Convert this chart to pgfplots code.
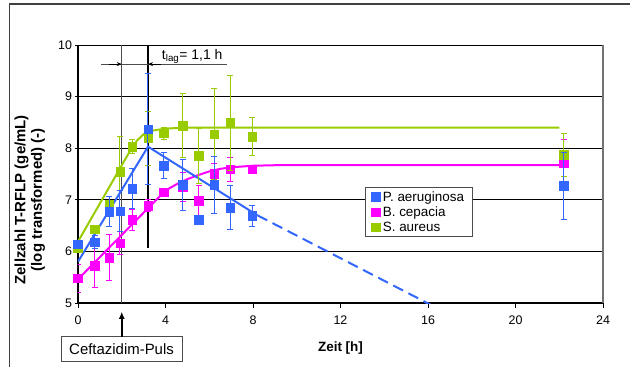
\documentclass[border=0pt]{standalone}
\usepackage{pgfplots}
\pgfplotsset{compat=1.18}
\usepackage{pgfplotstable}
\usepackage{fontspec}
\setmainfont{Liberation Sans}
\usetikzlibrary{arrows.meta}
\definecolor{cblue}{HTML}{3366FF}
\definecolor{cmag}{HTML}{FF00FF}
\definecolor{cgreen}{HTML}{99CC00}

\pgfplotstableread{
t v e
0 6.14 0.05
0.76 6.18 0.12
1.43 6.77 0.29
1.92 6.78 0.40
2.48 7.22 0.38
3.2 8.37 1.07
3.93 7.66 0.25
4.78 7.29 0.50
5.53 6.61 0.0
6.23 7.29 0.55
6.95 6.85 0.42
7.97 6.69 0.20
22.2 7.27 0.65
}\bluedata

\pgfplotstableread{
t v e
0 5.48 0.27
0.76 5.72 0.42
1.43 5.88 0.44
1.92 6.16 0.22
2.48 6.61 0.20
3.2 6.89 0.12
3.93 7.15 0.05
4.78 7.25 0.28
5.53 6.98 0.30
6.23 7.51 0.20
6.95 7.59 0.23
7.97 7.59 0.05
22.2 7.72 0.44
}\magdata

\pgfplotstableread{
t v e
0 6.07 0.05
0.76 6.43 0.05
1.43 6.90 0.16
1.92 7.54 0.68
2.48 8.03 0.13
3.2 8.19 0.52
3.93 8.29 0.12
4.78 8.44 0.62
5.53 7.85 0.53
6.23 8.27 0.88
6.95 8.49 0.92
7.97 8.22 0.37
22.2 7.87 0.42
}\greendata

\begin{document}
\begin{tikzpicture}
\useasboundingbox (-78bp,-64bp) rectangle (552bp,303bp);
\clip (-78bp,-64bp) rectangle (552bp,303bp);
\draw[line width=1.3bp, black!75] (-68.5bp,-80bp) -- (-68.5bp,299bp) -- (570bp,299bp);
\begin{axis}[
  at={(0,0)}, anchor=south west,
  scale only axis, width=525bp, height=258bp,
  xmin=0, xmax=24, ymin=5, ymax=10,
  xtick={0,4,...,24}, ytick={5,6,...,10},
  axis lines=left,
  axis line style={-, black, line width=1.3bp},
  ymajorgrids, grid style={black, line width=0.8bp},
  xtick align=outside, ytick align=center,
  major tick length=5bp,
  tick style={black, line width=0.8bp},
  ticklabel style={font=\fontsize{12.5}{14}\selectfont},
  xticklabel style={yshift=-4bp},
  /pgf/number format/assume math mode=true,
  clip mode=individual,
  legend style={at={(0.5467,0.4496)}, anchor=north west, draw=black!70, line width=0.8bp,
    fill=white, font=\fontsize{13.5}{15}\selectfont, inner xsep=6bp, inner ysep=2bp,
    row sep=0bp},
  legend cell align=left,
  legend image code/.code={\fill[#1] (0bp,-4.3bp) rectangle (8.6bp,4.3bp);},
]
% right border
\draw[black!55, line width=1.5bp] (rel axis cs:1,0) -- (rel axis cs:1,1);
% reference lines
\draw[black!70, line width=1.2bp] (axis cs:2,10) -- (axis cs:2,5);
\draw[black, line width=1.2bp] (axis cs:3.2,10) -- (axis cs:3.2,6.07);
% t_lag arrows
\draw[black!70, line width=1bp] (axis cs:1.05,9.63) -- (axis cs:6.8,9.63);
\draw[-{Stealth[length=5bp,width=4bp]}, black, line width=0.8bp] (axis cs:1.4,9.63) -- (axis cs:2,9.63);
\draw[-{Stealth[length=5bp,width=4bp]}, black, line width=0.8bp] (axis cs:3.8,9.63) -- (axis cs:3.2,9.63);
\node[anchor=base west, inner sep=0pt, font=\fontsize{14}{16}\selectfont] at (axis cs:3.83,9.72) {t\textsubscript{lag}= 1,1 h};
% Ceftazidim-Puls
\node[draw=black!70, line width=0.9bp, fill=white, minimum width=121bp, minimum height=25bp, inner sep=0pt,
  font=\fontsize{15}{17}\selectfont] at (axis cs:1.99,4.10) {Ceftazidim-Puls};
\draw[-{Latex[length=7bp,width=6bp]}, black, line width=1.6bp] (axis cs:2,4.34) -- (axis cs:2,4.83);
% axis labels
\node[font=\bfseries\fontsize{13.5}{15}\selectfont] at (axis cs:12,4.12) {Zeit [h]};
\node[rotate=90, align=center, font=\bfseries\fontsize{15}{16.5}\selectfont] at (axis cs:-2.2,7.0)
  {Zellzahl T-RFLP (ge/mL)\\(log transformed) (-)};

% fitted lines
\addplot[cgreen, line width=2bp, forget plot] coordinates {(0,6.19)(2.45,8.0)(2.7,8.15)(3.0,8.27)(3.4,8.34)(4,8.38)(5,8.40)(22,8.40)};
\addplot[cmag, line width=2bp, forget plot] coordinates {(0,5.46)(4.0,7.18)(4.5,7.3)(5,7.4)(5.5,7.48)(6,7.55)(6.5,7.6)(7,7.63)(8,7.66)(9,7.67)(22,7.67)};
\addplot[cblue, line width=2bp, forget plot] coordinates {(0,5.8)(3.2,8.03)(8.2,6.70)};
\addplot[cblue, line width=2bp, dash pattern=on 11bp off 6bp, forget plot] coordinates {(8.2,6.70)(16.1,4.97)};

% data
\addplot[only marks, mark=square*, mark size=4.3bp, color=cmag, mark options={draw=none, fill=cmag}, forget plot,
  error bars/.cd, y dir=both, y explicit,
  error bar style={line width=1bp, cmag},
  error mark options={rotate=90, mark size=3bp, line width=1bp, cmag}]
  table[x=t, y=v, y error=e] {\magdata};
\addplot[only marks, mark=square*, mark size=4.3bp, color=cgreen, mark options={draw=none, fill=cgreen}, forget plot,
  error bars/.cd, y dir=both, y explicit,
  error bar style={line width=1bp, cgreen},
  error mark options={rotate=90, mark size=3bp, line width=1bp, cgreen}]
  table[x=t, y=v, y error=e] {\greendata};
\addplot[only marks, mark=square*, mark size=4.3bp, color=cblue, mark options={draw=none, fill=cblue}, forget plot,
  error bars/.cd, y dir=both, y explicit,
  error bar style={line width=1bp, cblue},
  error mark options={rotate=90, mark size=3bp, line width=1bp, cblue}]
  table[x=t, y=v, y error=e] {\bluedata};

\addlegendimage{cblue}
\addlegendentry{P. aeruginosa}
\addlegendimage{cmag}
\addlegendentry{B. cepacia}
\addlegendimage{cgreen}
\addlegendentry{S. aureus}
\end{axis}
\end{tikzpicture}
\end{document}
